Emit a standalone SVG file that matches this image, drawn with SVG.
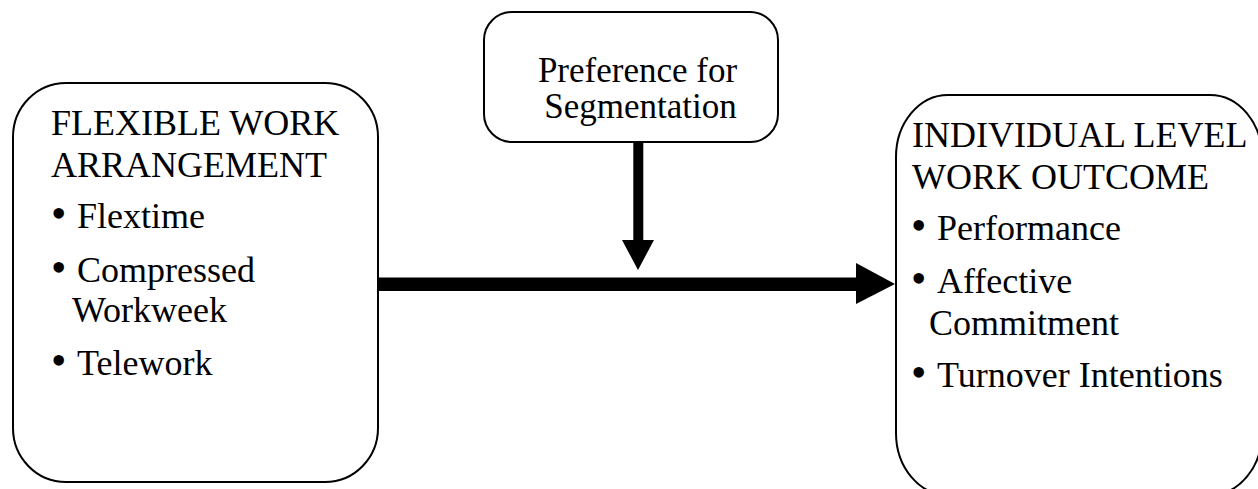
<svg xmlns="http://www.w3.org/2000/svg" width="1258" height="489" viewBox="0 0 1258 489">
<style>
.box{fill:#fff;stroke:#000;stroke-width:2}
.t{font-family:"Liberation Serif","Times New Roman",serif;font-size:36px;fill:#000}
.m{font-family:"Liberation Serif","Times New Roman",serif;font-size:35px;fill:#000}
.b{font-family:"Liberation Serif","Times New Roman",serif;font-size:44px;fill:#000}
</style>
<rect width="1258" height="489" fill="#fff"/>
<g id="connectors">
<rect x="377" y="277.5" width="480" height="13.5" fill="#000"/>
<polygon points="856,263 895,284 856,304" fill="#000"/>
<rect x="633.3" y="142" width="10" height="99" fill="#000"/>
<polygon points="622,240 654,240 638,270" fill="#000"/>
</g>
<g id="node-flexible">
<rect class="box" x="13" y="83" width="365" height="399" rx="53" ry="54"/>
<text class="t" x="51" y="135">FLEXIBLE WORK</text>
<text class="t" x="51" y="177">ARRANGEMENT</text>
<text class="b" x="51" y="228">•</text>
<text class="t" x="77" y="228">Flextime</text>
<text class="b" x="51" y="282">•</text>
<text class="t" x="77" y="282">Compressed</text>
<text class="t" x="72" y="322">Workweek</text>
<text class="b" x="51" y="375">•</text>
<text class="t" x="77" y="375">Telework</text>
</g>
<g id="node-preference">
<rect class="box" x="484" y="12" width="294" height="130" rx="28" ry="28"/>
<text class="m" x="637.5" y="82" text-anchor="middle">Preference for</text>
<text class="m" x="640.5" y="118" text-anchor="middle">Segmentation</text>
</g>
<g id="node-outcome">
<rect class="box" x="896" y="95" width="366" height="400" rx="52" ry="62"/>
<text class="t" x="912" y="147">INDIVIDUAL LEVEL</text>
<text class="t" x="912" y="189">WORK OUTCOME</text>
<text class="b" x="911" y="240">•</text>
<text class="t" x="937" y="240">Performance</text>
<text class="b" x="911" y="293">•</text>
<text class="t" x="937" y="293">Affective</text>
<text class="t" x="929" y="335">Commitment</text>
<text class="b" x="911" y="387">•</text>
<text class="t" x="937" y="387">Turnover Intentions</text>
</g>
</svg>
